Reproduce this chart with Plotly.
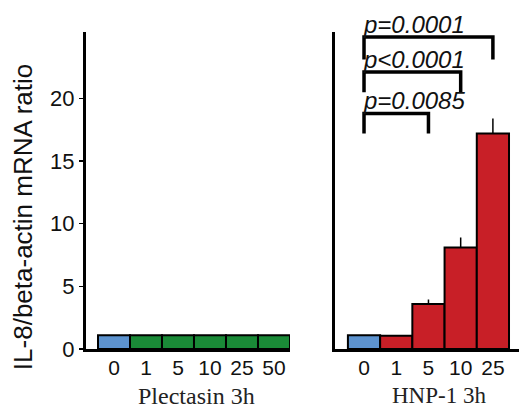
import plotly.graph_objects as go

# ---- data ----
plectasin_doses = ["0", "1", "5", "10", "25", "50"]
plectasin_ratio = [1.1, 1.1, 1.1, 1.1, 1.1, 1.1]

hnp_doses = ["0", "1", "5", "10", "25"]
hnp_ratio = [1.1, 1.05, 3.6, 8.1, 17.2]
hnp_err = [0.0, 0.0, 0.35, 0.8, 1.2]

y_ticks = [0, 5, 10, 15, 20]

# significance brackets: (from dose, to dose, top, leg bottom, label)
brackets = [
    ("0", "5", 18.8, 17.2, "p=0.0085"),
    ("0", "10", 22.1, 20.5, "p&lt;0.0001"),
    ("0", "25", 24.9, 23.1, "p=0.0001"),
]

BLUE = "#5d93cf"
GREEN = "#1a8a37"
RED = "#c81f27"
SANS = "Arial, Liberation Sans, sans-serif"
SERIF = "Times New Roman, Liberation Serif, serif"

fig = go.Figure()

fig.add_trace(go.Bar(
    x=plectasin_doses, y=plectasin_ratio, xaxis="x", yaxis="y",
    marker=dict(color=[BLUE] + [GREEN] * (len(plectasin_doses) - 1),
                line=dict(color="black", width=2)),
    width=1, showlegend=False,
))

fig.add_trace(go.Bar(
    x=hnp_doses, y=hnp_ratio, xaxis="x2", yaxis="y2",
    marker=dict(color=[BLUE] + [RED] * (len(hnp_doses) - 1),
                line=dict(color="black", width=2)),
    error_y=dict(type="data", symmetric=False, array=hnp_err,
                 arrayminus=[0] * len(hnp_err), thickness=1.5, width=0,
                 color="black"),
    width=1, showlegend=False,
))

annotations = []
for x0, x1, top, bottom, label in brackets:
    fig.add_trace(go.Scatter(
        x=[x0, x0, x1, x1], y=[bottom, top, top, bottom],
        xaxis="x2", yaxis="y2", mode="lines",
        line=dict(color="black", width=3.5), showlegend=False,
        hoverinfo="skip",
    ))
    annotations.append(dict(
        x=0, y=top, xref="x2", yref="y2", text="<i>" + label + "</i>",
        showarrow=False, xanchor="left", yanchor="bottom", xshift=-3,
        yshift=-3, font=dict(family=SANS, size=24, color="#111"),
    ))

annotations += [
    dict(x=-0.1455, y=0.416, xref="paper", yref="paper",
         text="IL-8/beta-actin mRNA ratio", textangle=-90, showarrow=False,
         xanchor="center", yanchor="middle",
         font=dict(family=SANS, size=26, color="#111")),
    dict(x=0.5, y=-0.148, xref="x domain", yref="paper", xshift=9,
         text="Plectasin 3h", showarrow=False, xanchor="center",
         yanchor="middle", font=dict(family=SERIF, size=24, color="#222")),
    dict(x=0.5, y=-0.148, xref="x2 domain", yref="paper", xshift=12,
         text="HNP-1 3h", showarrow=False, xanchor="center",
         yanchor="middle", font=dict(family=SERIF, size=23, color="#222")),
]

xcommon = dict(type="category", showline=True, linecolor="black",
               linewidth=2.5, ticks="", showgrid=False, zeroline=False,
               automargin=False,
               tickfont=dict(family=SANS, size=21, color="#111"),
               ticklabelstandoff=-2)
ycommon = dict(range=[0, 25.3], showline=True, linecolor="black",
               linewidth=3, showgrid=False, zeroline=False,
               automargin=False)

fig.update_layout(
    width=519, height=412,
    margin=dict(l=86, r=0, t=32, b=63, autoexpand=False),
    paper_bgcolor="white", plot_bgcolor="white",
    bargap=0,
    xaxis=dict(domain=[0, 0.4711], range=[-0.875, 5.5], anchor="y",
               **xcommon),
    xaxis2=dict(domain=[0.5751, 1], range=[-0.9, 4.81], anchor="y2",
                **xcommon),
    yaxis=dict(anchor="x", tickvals=y_ticks, ticks="outside", ticklen=4,
               tickwidth=1.5, tickcolor="black",
               tickfont=dict(family=SANS, size=22, color="#111"),
               **ycommon),
    yaxis2=dict(anchor="x2", showticklabels=False, ticks="", **ycommon),
    annotations=annotations,
)

fig.write_html(
    "out.html",
    config={"displayModeBar": False, "staticPlot": True},
    post_script="document.body.style.margin='0';"
                "document.body.style.overflow='hidden';",
)
